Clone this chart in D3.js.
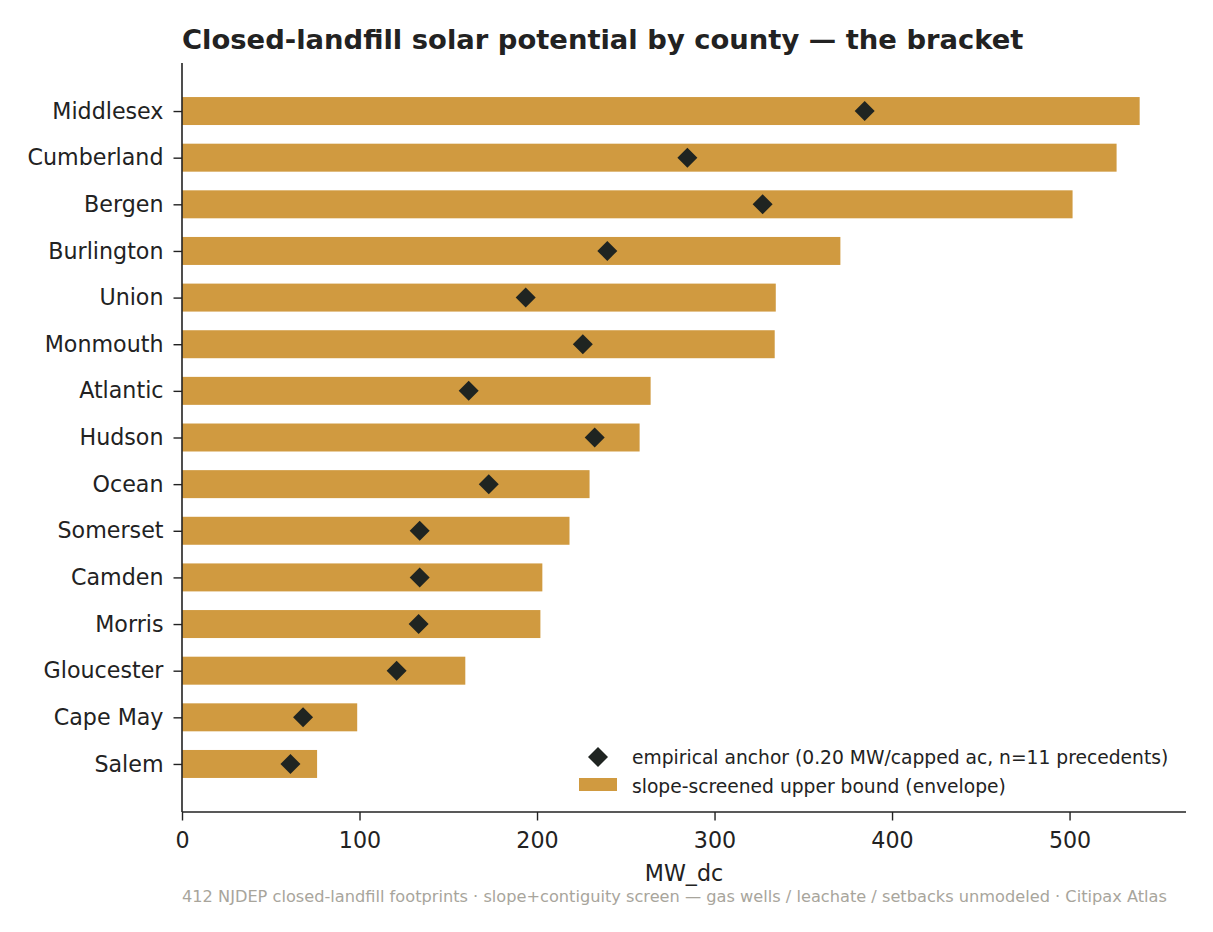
<!DOCTYPE html>
<html><head><meta charset="utf-8">
<script src="https://cdn.jsdelivr.net/npm/d3@7"></script>
<style>
body{margin:0;background:#fff;}
text{font-family:"DejaVu Sans",sans-serif;}
</style></head>
<body><svg id="c" width="1213" height="932"></svg>
<script>
const counties = ["Middlesex","Cumberland","Bergen","Burlington","Union","Monmouth","Atlantic","Hudson","Ocean","Somerset","Camden","Morris","Gloucester","Cape May","Salem"];
const envelope = [539.5,526.5,501.7,370.9,334.5,333.9,264.0,257.8,229.6,218.3,203.0,201.9,159.6,98.7,76.1];
const anchor = [384.6,284.7,327.1,239.6,193.6,225.8,161.5,232.5,172.8,133.9,133.9,133.3,120.9,68.2,61.1];
const xTicks = [0,100,200,300,400,500];

const svg = d3.select("#c");
const L=182, R=1186, T=63, B=812;
const x = d3.scaleLinear().domain([0,565.6]).range([L,R]);
const y = d3.scaleLinear().domain([-1.03,15.03]).range([T,B]);
const barH = 0.6;
const barColor = "#D09A40", ink="#1F2421", txt="#222";
const tickFS = "22.2px";

svg.append("g").selectAll("rect").data(counties).join("rect")
  .attr("x", x(0))
  .attr("y", (d,i)=>y(i-barH/2))
  .attr("width", (d,i)=>x(envelope[i])-x(0))
  .attr("height", y(barH)-y(0))
  .attr("fill", barColor);

const diamond = d3.symbol().type(d3.symbolSquare).size(200);
svg.append("g").selectAll("path").data(counties).join("path")
  .attr("d", diamond)
  .attr("transform", (d,i)=>`translate(${x(anchor[i])},${y(i)}) rotate(45)`)
  .attr("fill", ink);

// y axis
const yAxis = d3.axisLeft(y).tickValues(d3.range(counties.length)).tickFormat(i=>counties[i]).tickSize(8.5).tickPadding(10);
const gy = svg.append("g").attr("transform",`translate(${L},0)`).call(yAxis);
gy.select(".domain").attr("d",`M0,${T}V${B}`).attr("stroke",txt).attr("stroke-width",1.6);
gy.selectAll(".tick line").attr("stroke",txt).attr("stroke-width",1.4);
gy.selectAll(".tick text").attr("fill",txt).style("font-size",tickFS);

// x axis
const xAxis = d3.axisBottom(x).tickValues(xTicks).tickSize(8.5).tickPadding(12);
const gx = svg.append("g").attr("transform",`translate(0,${B})`).call(xAxis);
gx.select(".domain").attr("d",`M${L},0H${R}`).attr("stroke",txt).attr("stroke-width",1.6);
gx.selectAll(".tick line").attr("stroke",txt).attr("stroke-width",1.4);
gx.selectAll(".tick text").attr("fill",txt).style("font-size",tickFS);

svg.selectAll(".tick text").style("font-family","'DejaVu Sans',sans-serif");

// title
svg.append("text").attr("x",L).attr("y",49).attr("font-size",27.4).attr("font-weight","bold").attr("fill",txt)
  .text("Closed-landfill solar potential by county — the bracket");

// x label
svg.append("text").attr("x",(L+R)/2).attr("y",881).attr("text-anchor","middle").attr("font-size",22.2).attr("fill",txt).text("MW_dc");

// footer
svg.append("text").attr("x",L).attr("y",902).attr("font-size",16.2).attr("fill","#A8A59C")
  .text("412 NJDEP closed-landfill footprints · slope+contiguity screen — gas wells / leachate / setbacks unmodeled · Citipax Atlas");

// legend
const lg = svg.append("g");
lg.append("path").attr("d",diamond).attr("transform","translate(598,757) rotate(45)").attr("fill",ink);
lg.append("text").attr("x",632).attr("y",763.5).attr("font-size",18.7).attr("fill",txt).text("empirical anchor (0.20 MW/capped ac, n=11 precedents)");
lg.append("rect").attr("x",579).attr("y",778).attr("width",38).attr("height",13).attr("fill",barColor);
lg.append("text").attr("x",632).attr("y",792.5).attr("font-size",18.7).attr("fill",txt).text("slope-screened upper bound (envelope)");
</script></body></html>
